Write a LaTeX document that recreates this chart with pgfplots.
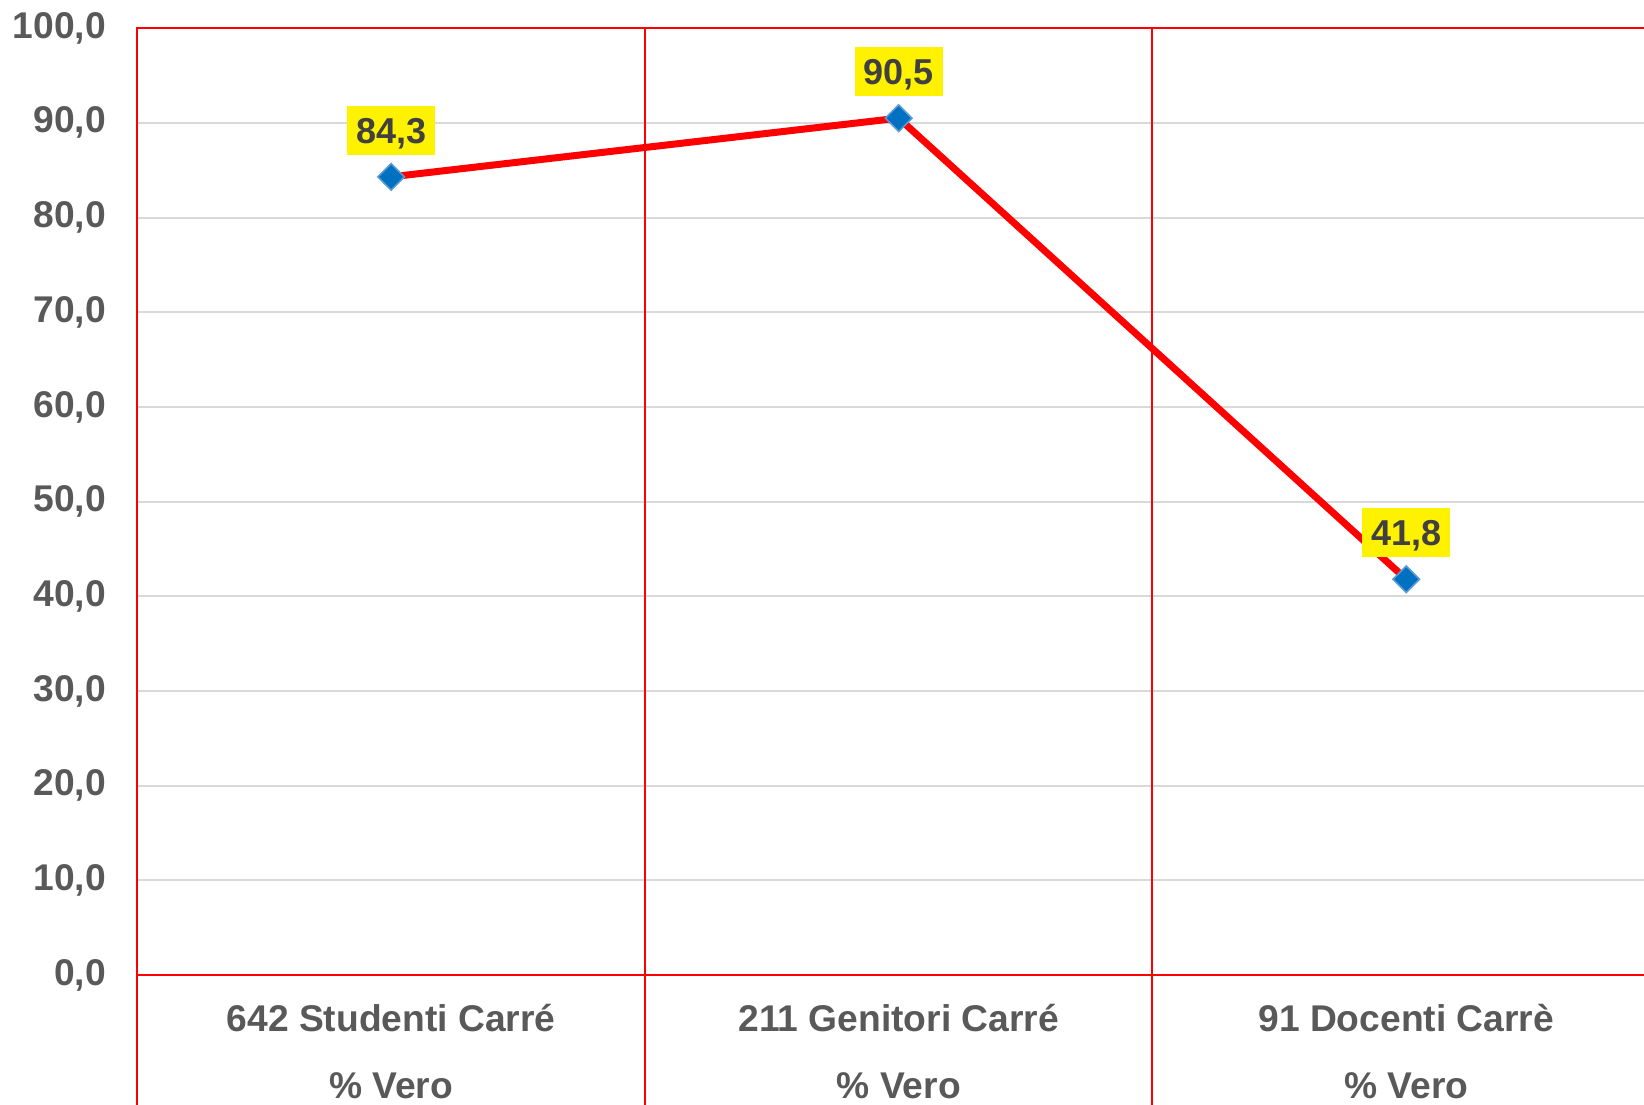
\documentclass[border=0pt]{standalone}
\usepackage{fontspec}
\setmainfont{Liberation Sans}
\usepackage{pgfplots}
\pgfplotsset{compat=1.18}
\definecolor{tickgray}{HTML}{595959}
\definecolor{labgray}{HTML}{404040}
\definecolor{gridgray}{HTML}{D9D9D9}
\definecolor{mblue}{HTML}{0070C0}
\definecolor{medge}{HTML}{5B9BD5}
\begin{document}
\begin{tikzpicture}
\begin{axis}[
  at={(0pt,0pt)}, anchor=south west,
  scale only axis, width=761.3pt, height=473.4pt,
  xmin=-0.5, xmax=2.5, ymin=0, ymax=100,
  axis line style={red, line width=1pt},
  tick style={draw=none}, major tick length=0pt,
  xtick pos=left,
  xtick={0,1,2},
  xticklabels={{642 Studenti Carré\\\% Vero}, {211 Genitori Carré\\\% Vero}, {91 Docenti Carrè\\\% Vero}},
  xticklabel style={align=center, font=\fontsize{18.6}{33.5}\selectfont\bfseries, text=tickgray, yshift=-11pt},
  extra x ticks={-0.5,0.5,1.5,2.5},
  extra x tick labels={},
  extra x tick style={grid=major, major grid style={red, line width=1pt}, tick align=outside, major tick length=66pt, tick style={draw=red, line width=1pt}, xtick pos=left},
  ytick={0,10,...,100},
  ymajorgrids,
  major grid style={gridgray, line width=1pt},
  yticklabel style={font=\fontsize{18.6}{20}\selectfont\bfseries, text=tickgray, xshift=-12.2pt},
  /pgf/number format/fixed,
  /pgf/number format/fixed zerofill,
  /pgf/number format/precision=1,
  /pgf/number format/use comma,
  /pgf/number format/assume math mode=true,
  clip=false,
  nodes near coords,
  nodes near coords style={fill=yellow, text=labgray, font=\fontsize{18}{20}\selectfont\bfseries, anchor=south, yshift=10.5pt, inner xsep=4.5pt, inner ysep=5.8pt, text height=13pt, text depth=0pt},
]
\addplot[red, line width=3.5pt, mark=square*, mark size=4.7pt, mark options={rotate=45, fill=mblue, draw=medge, line width=0.8pt, solid}] coordinates {(0,84.3) (1,90.5) (2,41.8)};
\end{axis}
\pgfresetboundingbox
\path (-68.7pt,-64.5pt) rectangle (753.3pt,487.5pt);
\end{tikzpicture}
\end{document}
